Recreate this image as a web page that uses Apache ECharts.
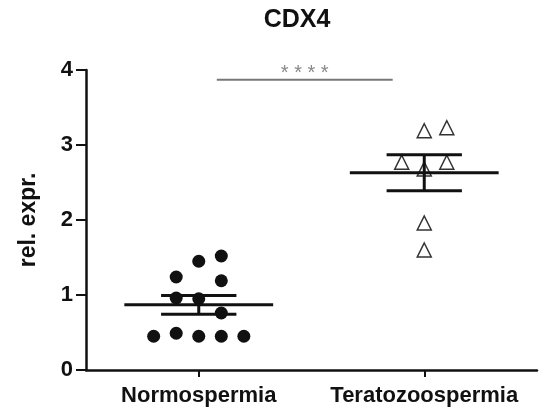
<!DOCTYPE html>
<html>
<head>
<meta charset="utf-8">
<script src="https://cdn.jsdelivr.net/npm/echarts@6/dist/echarts.min.js"></script>
<style>
html,body{margin:0;padding:0;background:#fff;}
#chart{width:550px;height:415px;}
</style>
</head>
<body>
<div id="chart"></div>
<script>
var categories = ['Normospermia', 'Teratozoospermia'];
var yTicks = [0, 1, 2, 3, 4];

// Normospermia: horizontal spread (in category units) and values
var normoSpread = [0, 0.1, -0.1, 0.1, -0.1, 0, 0.1, -0.2, -0.1, 0, 0.1, 0.2];
var normoValues = [1.45, 1.52, 1.24, 1.19, 0.96, 0.95, 0.76, 0.45, 0.49, 0.45, 0.45, 0.45];

// Teratozoospermia
var teratoSpread = [0, 0.1, -0.1, 0.1, 0, 0, 0];
var teratoValues = [3.19, 3.23, 2.77, 2.77, 2.68, 1.96, 1.60];

// mean and SEM per group
var groupMeans = [0.87, 2.63];
var groupSEM = [0.125, 0.24];

// significance annotation
var sigFrom = 0.08, sigTo = 0.86, sigLevel = 3.87, sigLabel = '* * * *';

function pts(groupIdx, spread, vals) {
  return vals.map(function (v, i) { return [groupIdx + spread[i], v]; });
}

var chart = echarts.init(document.getElementById('chart'));
var FONT = 'Liberation Sans, Arial, sans-serif';

chart.setOption({
  animation: false,
  backgroundColor: '#fff',
  title: {
    text: 'CDX4',
    left: 292,
    top: 3,
    textAlign: 'center',
    textStyle: { fontFamily: FONT, fontWeight: 'bold', fontSize: 25, color: '#111' }
  },
  grid: { left: 86, right: 13, top: 70, bottom: 45, containLabel: false },
  xAxis: [
    {
      type: 'category',
      data: categories,
      boundaryGap: true,
      axisLine: { lineStyle: { color: '#111', width: 2.5 } },
      axisTick: { show: true, alignWithLabel: true, interval: 0, length: 7, lineStyle: { color: '#111', width: 2 } },
      axisLabel: { interval: 0, hideOverlap: false, fontFamily: FONT, fontWeight: 'bold', fontSize: 22, color: '#111', margin: 15 },
      splitLine: { show: false }
    },
    {
      type: 'value',
      min: -0.5,
      max: 1.5,
      show: false
    }
  ],
  yAxis: {
    type: 'value',
    min: 0,
    max: 4,
    interval: 1,
    name: 'rel. expr.',
    nameLocation: 'middle',
    nameRotate: 90,
    nameGap: 46,
    nameTextStyle: { fontFamily: FONT, fontWeight: 'bold', fontSize: 23, color: '#111' },
    axisLine: { show: true, onZero: false, lineStyle: { color: '#111', width: 2.5 } },
    axisTick: { show: true, length: 10, lineStyle: { color: '#111', width: 2 } },
    axisLabel: {
      fontFamily: FONT, fontWeight: 'bold', fontSize: 22, color: '#111', margin: 13,
      formatter: function (v) { return yTicks.indexOf(v) >= 0 ? String(v) : ''; }
    },
    splitLine: { show: false }
  },
  series: [
    {
      type: 'scatter',
      xAxisIndex: 1,
      symbol: 'circle',
      symbolSize: 13,
      itemStyle: { color: '#111', opacity: 1 },
      data: pts(0, normoSpread, normoValues),
      z: 2
    },
    {
      type: 'scatter',
      xAxisIndex: 1,
      symbol: 'triangle',
      symbolSize: 14,
      itemStyle: { color: '#fff', borderColor: '#333', borderWidth: 1.5, opacity: 1 },
      data: pts(1, teratoSpread, teratoValues),
      z: 2
    },
    {
      type: 'custom',
      xAxisIndex: 1,
      z: 3,
      clip: false,
      data: groupMeans.map(function (m, i) { return [i, m, groupSEM[i]]; }),
      renderItem: function (params, api) {
        var x = api.value(0), m = api.value(1), s = api.value(2);
        var c = api.coord([x, m]);
        var hi = api.coord([x, m + s]);
        var lo = api.coord([x, m - s]);
        var mw = api.size([0.33, 0])[0];
        var sw = api.size([0.167, 0])[0];
        var st = { stroke: '#111', lineWidth: 3 };
        return {
          type: 'group',
          children: [
            { type: 'line', shape: { x1: c[0] - mw, y1: c[1], x2: c[0] + mw, y2: c[1] }, style: st },
            { type: 'line', shape: { x1: c[0], y1: hi[1], x2: c[0], y2: lo[1] }, style: st },
            { type: 'line', shape: { x1: c[0] - sw, y1: hi[1], x2: c[0] + sw, y2: hi[1] }, style: st },
            { type: 'line', shape: { x1: c[0] - sw, y1: lo[1], x2: c[0] + sw, y2: lo[1] }, style: st }
          ]
        };
      }
    },
    {
      type: 'custom',
      xAxisIndex: 1,
      z: 3,
      clip: false,
      data: [[sigFrom, sigTo, sigLevel]],
      renderItem: function (params, api) {
        var a = api.coord([api.value(0), api.value(2)]);
        var b = api.coord([api.value(1), api.value(2)]);
        return {
          type: 'group',
          children: [
            { type: 'line', shape: { x1: a[0], y1: a[1], x2: b[0], y2: b[1] }, style: { stroke: '#777', lineWidth: 2 } },
            { type: 'text', style: { text: sigLabel, x: (a[0] + b[0]) / 2, y: a[1] + 4, textAlign: 'center', textVerticalAlign: 'bottom', fill: '#888', font: '20px ' + FONT } }
          ]
        };
      }
    }
  ]
});
</script>
</body>
</html>
